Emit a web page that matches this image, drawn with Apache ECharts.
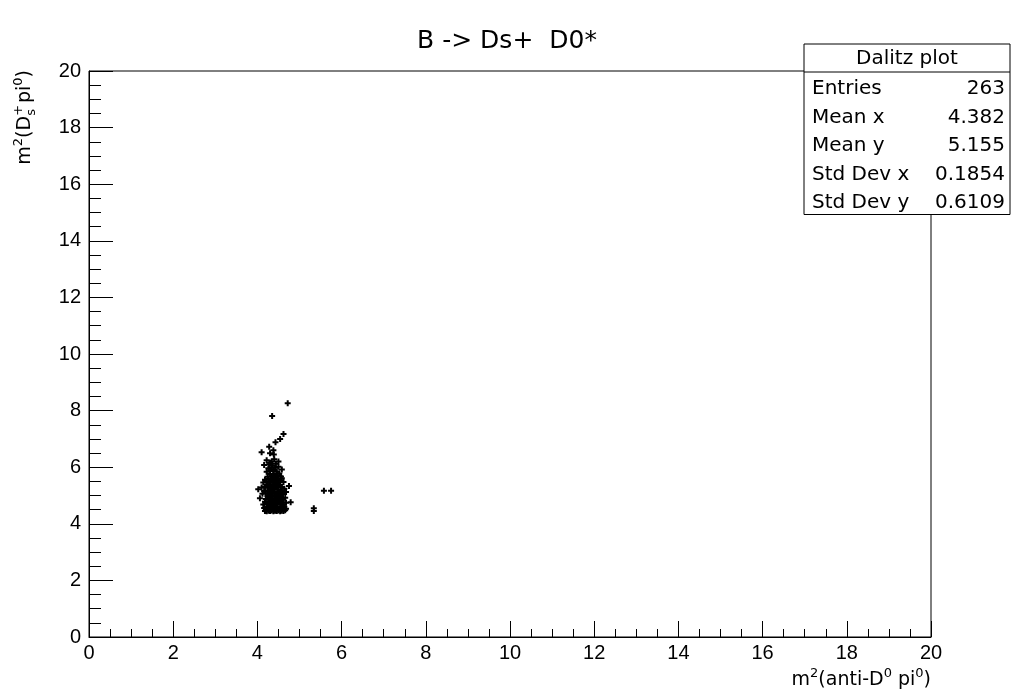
<!DOCTYPE html>
<html>
<head>
<meta charset="utf-8">
<script src="https://cdn.jsdelivr.net/npm/echarts@6/dist/echarts.min.js"></script>
<style>
html,body{margin:0;padding:0;background:#fff;}
#chart{width:1014px;height:694px;}
</style>
</head>
<body>
<div id="chart"></div>
<script>
// ---- data ----
const titleText = 'B -> Ds+  D0*';
const xTicks = [0, 2, 4, 6, 8, 10, 12, 14, 16, 18, 20];
const yTicks = [0, 2, 4, 6, 8, 10, 12, 14, 16, 18, 20];
const statsLabels = ['Entries', 'Mean x', 'Mean y', 'Std Dev x', 'Std Dev y'];
const statsValues = ['263', '4.382', '5.155', '0.1854', '0.6109'];
const statsTitle = 'Dalitz plot';

// dense bottom band (y 4.42 - 4.62)
const bandA = [
 [4.18,4.45],[4.22,4.44],[4.26,4.46],[4.30,4.45],[4.34,4.47],[4.38,4.44],[4.42,4.46],[4.46,4.45],
 [4.50,4.47],[4.54,4.44],[4.58,4.46],[4.62,4.45],[4.66,4.48],[4.20,4.52],[4.28,4.55],[4.36,4.53],
 [4.44,4.56],[4.52,4.52],[4.60,4.55],[4.24,4.58],[4.32,4.60],[4.40,4.59],[4.48,4.61],[4.56,4.58],
 [4.64,4.60],[4.16,4.56],[4.68,4.53],[4.32,4.50],[4.40,4.50],[4.48,4.51]
];
// y 4.62 - 5.02
const bandB = [
 [4.14,4.68],[4.22,4.70],[4.30,4.66],[4.38,4.72],[4.46,4.68],[4.54,4.71],[4.62,4.67],[4.68,4.74],
 [4.18,4.78],[4.26,4.80],[4.34,4.77],[4.42,4.82],[4.50,4.79],[4.58,4.81],[4.79,4.76],[4.06,4.90],
 [4.20,4.88],[4.28,4.92],[4.36,4.86],[4.44,4.90],[4.52,4.94],[4.60,4.88],[4.66,4.92],[4.24,4.98],
 [4.32,5.00],[4.40,4.97],[4.48,5.01],[4.56,4.98],[4.26,4.72],[4.34,4.84],[4.42,4.74],[4.50,4.86],
 [4.58,4.74],[4.30,4.94],[4.46,4.96]
];
// y 5.02 - 5.42
const bandC = [
 [4.12,5.06],[4.20,5.08],[4.28,5.04],[4.36,5.10],[4.44,5.06],[4.52,5.09],[4.60,5.05],[4.68,5.12],
 [4.02,5.22],[4.16,5.16],[4.24,5.18],[4.32,5.20],[4.40,5.15],[4.48,5.22],[4.56,5.18],[4.64,5.24],
 [4.10,5.28],[4.18,5.30],[4.26,5.27],[4.34,5.32],[4.42,5.29],[4.50,5.34],[4.58,5.30],[4.75,5.34],
 [4.22,5.38],[4.30,5.40],[4.38,5.37],[4.46,5.41],[4.54,5.38],[4.32,5.12],[4.40,5.24],[4.48,5.12],
 [4.28,5.34],[4.44,5.35]
];
// y 5.42 - 5.80
const bandD = [
 [4.14,5.46],[4.22,5.48],[4.30,5.45],[4.38,5.50],[4.46,5.47],[4.54,5.52],[4.62,5.48],[4.18,5.56],
 [4.26,5.58],[4.34,5.55],[4.42,5.60],[4.50,5.57],[4.58,5.61],[4.24,5.66],[4.32,5.68],[4.40,5.65],
 [4.48,5.70],[4.56,5.67],[4.30,5.76],[4.38,5.74],[4.46,5.78],[4.52,5.78],[4.36,5.62],[4.44,5.52]
];
// y 5.80 - 6.30
const bandE = [
 [4.22,5.84],[4.30,5.86],[4.38,5.90],[4.46,5.85],[4.26,5.96],[4.34,6.00],[4.42,5.98],[4.50,6.02],
 [4.16,6.08],[4.28,6.10],[4.36,6.06],[4.44,6.12],[4.22,6.25],[4.34,6.20],[4.50,6.20],[4.40,6.28],
 [4.30,6.16],[4.58,5.92]
];
// upper tail
const tail = [
 [4.10,6.53],[4.30,6.49],[4.39,6.45],[4.38,6.60],[4.28,6.72],[4.43,6.88],[4.54,7.00],[4.62,7.17],
 [4.35,7.81],[4.72,8.26]
];
// isolated points at higher x
const outliers = [[5.58,5.17],[5.75,5.17],[5.34,4.45],[5.34,4.55]];

const points = [].concat(bandA, bandB, bandC, bandD, bandE, tail, outliers);

// ---- chart ----
const FONT = '"DejaVu Sans", "Liberation Sans", Arial, sans-serif';
const TICKFONT = '"Liberation Sans", Arial, Helvetica, sans-serif';
const chart = echarts.init(document.getElementById('chart'), null, {renderer: 'canvas'});

const plusPath = 'path://M2,0L4,0L4,2L6,2L6,4L4,4L4,6L2,6L2,4L0,4L0,2L2,2Z';

const statsX = 804, statsY = 44, statsW = 206, headH = 28, rowH = 28.5;
const statsGraphics = [];
statsGraphics.push({type:'rect', shape:{x:statsX, y:statsY, width:statsW, height:headH + rowH*statsLabels.length}, style:{fill:'#fff', stroke:'#000', lineWidth:1}, z:100});
statsGraphics.push({type:'line', shape:{x1:statsX, y1:statsY+headH, x2:statsX+statsW, y2:statsY+headH}, style:{stroke:'#000', lineWidth:1}, z:101});
statsGraphics.push({type:'text', x:statsX+statsW/2, y:statsY+headH/2+1, style:{text:statsTitle, font:'20px '+FONT, fill:'#000', align:'center', verticalAlign:'middle'}, z:102});
statsLabels.forEach((lab, i) => {
  const cy = statsY + headH + rowH*(i+0.5) + 3;
  statsGraphics.push({type:'text', x:statsX+8, y:cy, style:{text:lab, font:'20px '+FONT, fill:'#000', align:'left', verticalAlign:'middle'}, z:102});
  statsGraphics.push({type:'text', x:statsX+statsW-5, y:cy, style:{text:statsValues[i], font:'20px '+FONT, fill:'#000', align:'right', verticalAlign:'middle'}, z:102});
});

const rich = {
  b: {fontSize: 19, fontFamily: FONT, color:'#000', lineHeight: 26, verticalAlign:'middle', align:'left'},
  sup: {fontSize: 13, fontFamily: FONT, color:'#000', lineHeight: 12, verticalAlign:'top', align:'left'},
  supz: {fontSize: 13, fontFamily: FONT, color:'#000', lineHeight: 12, verticalAlign:'top', align:'left', width: 0},
  sub: {fontSize: 13, fontFamily: FONT, color:'#000', lineHeight: 4, verticalAlign:'bottom', align:'left'}
};

const option = {
  backgroundColor: '#fff',
  animation: false,
  title: {
    text: titleText, left: 'center', top: 24,
    textStyle: {fontFamily: FONT, fontSize: 25, fontWeight: 'normal', color: '#000'}
  },
  grid: {left: 89, right: 83, top: 71, bottom: 57, show: true, borderColor: '#000', borderWidth: 1, backgroundColor: 'transparent'},
  xAxis: {
    type: 'value', min: xTicks[0], max: xTicks[xTicks.length-1], interval: xTicks[1]-xTicks[0],
    axisLine: {show: true, onZero: false, lineStyle: {color: '#000', width: 1}},
    axisTick: {show: true, inside: true, length: 16, lineStyle: {color: '#000'}},
    minorTick: {show: true, splitNumber: 4, length: 8, lineStyle: {color: '#000'}},
    splitLine: {show: false},
    axisLabel: {color: '#000', fontFamily: TICKFONT, fontSize: 20, margin: 6}
  },
  yAxis: {
    type: 'value', min: yTicks[0], max: yTicks[yTicks.length-1], interval: yTicks[1]-yTicks[0],
    axisLine: {show: true, onZero: false, lineStyle: {color: '#000', width: 1}},
    axisTick: {show: true, inside: true, length: 24, lineStyle: {color: '#000'}},
    minorTick: {show: true, splitNumber: 4, length: 12, lineStyle: {color: '#000'}},
    splitLine: {show: false},
    axisLabel: {color: '#000', fontFamily: TICKFONT, fontSize: 20, margin: 8}
  },
  series: [{
    type: 'scatter',
    data: points,
    symbol: plusPath,
    symbolSize: 6,
    itemStyle: {color: '#000', opacity: 1},
    emphasis: {disabled: true},
    z: 5
  }],
  graphic: statsGraphics.concat([
    {type:'text', x: 931, y: 693, style:{
      text: '{b|m}{sup|2}{b|(anti-D}{sup|0}{b| pi}{sup|0}{b|)}', rich: rich,
      align:'right', verticalAlign:'bottom'}, z: 50},
    {type:'text', x: 25, y: 70, rotation: Math.PI/2, style:{
      text: '{b|m}{sup|2}{b|(D}{supz|+}{sub|s}{b| pi}{sup|0}{b|)}', rich: rich,
      align:'right', verticalAlign:'middle'}, z: 50}
  ])
};
chart.setOption(option);
</script>
</body>
</html>
